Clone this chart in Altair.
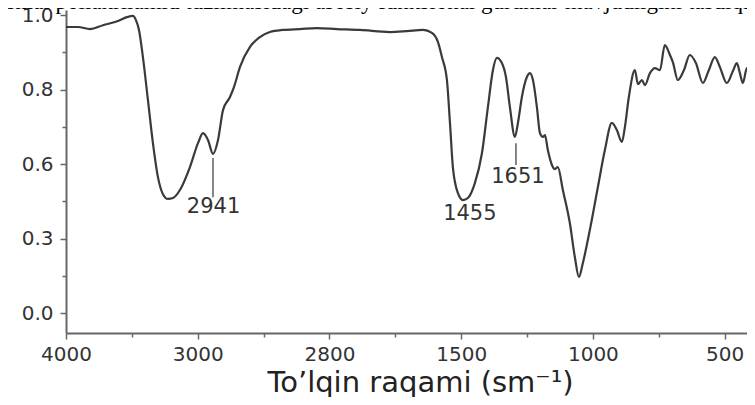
import json
import altair as alt
import pandas as pd

# ---- data ----
x_tick_labels = ["4000", "3000", "2800", "1500", "1000", "500"]
y_tick_labels = ["0.0", "0.3", "0.6", "0.8", "1.0"]

# x in axis-tick units (0 = "4000" tick, 1 = "3000" tick, ...)
# y in axis-tick units (0 = "0.0" tick, 1 = "1.0" tick)
x_pos = [0.000, 0.091, 0.182, 0.281, 0.395, 0.463, 0.509, 0.531, 0.554, 0.584,
         0.622, 0.660, 0.698, 0.736, 0.774, 0.812, 0.865, 0.941, 1.002, 1.040,
         1.078, 1.116, 1.154, 1.192, 1.245, 1.275, 1.321, 1.397, 1.472, 1.548,
         1.647, 1.776, 1.905, 2.057, 2.232, 2.459, 2.588, 2.710, 2.778, 2.824,
         2.854, 2.892, 2.915, 2.937, 2.975, 3.013, 3.051, 3.104, 3.158, 3.203,
         3.241, 3.271, 3.309, 3.340, 3.370, 3.408, 3.431, 3.461, 3.499, 3.522,
         3.545, 3.575, 3.598, 3.621, 3.636, 3.658, 3.689, 3.712, 3.734, 3.772,
         3.825, 3.863, 3.894, 3.924, 3.977, 4.038, 4.091, 4.144, 4.182, 4.220,
         4.243, 4.273, 4.319, 4.342, 4.372, 4.395, 4.433, 4.471, 4.509, 4.546,
         4.585, 4.607, 4.645, 4.691, 4.736, 4.782, 4.835, 4.880, 4.926, 4.964,
         5.017, 5.063, 5.093, 5.116, 5.139, 5.169, 5.207, 5.230]
y_val = [0.960, 0.960, 0.953, 0.966, 0.980, 0.993, 0.997, 0.983, 0.950, 0.859,
         0.715, 0.570, 0.456, 0.399, 0.383, 0.386, 0.413, 0.490, 0.570, 0.604,
         0.581, 0.534, 0.581, 0.681, 0.725, 0.758, 0.826, 0.893, 0.926, 0.943,
         0.950, 0.953, 0.956, 0.953, 0.950, 0.943, 0.946, 0.950, 0.940, 0.909,
         0.859, 0.782, 0.638, 0.490, 0.403, 0.379, 0.386, 0.436, 0.537, 0.691,
         0.815, 0.856, 0.839, 0.792, 0.691, 0.591, 0.638, 0.725, 0.792, 0.805,
         0.782, 0.691, 0.604, 0.591, 0.597, 0.547, 0.497, 0.483, 0.490, 0.413,
         0.302, 0.188, 0.121, 0.168, 0.279, 0.423, 0.547, 0.638, 0.614, 0.574,
         0.624, 0.725, 0.815, 0.768, 0.782, 0.765, 0.805, 0.822, 0.815, 0.899,
         0.866, 0.842, 0.782, 0.815, 0.866, 0.839, 0.772, 0.815, 0.859, 0.826,
         0.772, 0.812, 0.839, 0.805, 0.772, 0.822, 0.782, 0.732]

peak_labels = ["2941", "1455", "1651"]
peak_label_x = [1.120, 3.066, 3.431]
peak_label_y = [0.356, 0.332, 0.456]

marker_x = [1.116, 3.416]
marker_y_top = [0.520, 0.570]
marker_y_bottom = [0.389, 0.497]

heading = ("ısmal poliakrilamid tuzilmasidagi asosiy funksional guruhlar "
           "mavjudligini tasdiqlaydi")
x_title = "To\u2019lqin raqami (sm\u207b\u00b9)"

# ---- frames ----
spec_df = pd.DataFrame({"x": x_pos, "y": y_val})
lab_df = pd.DataFrame({"x": peak_label_x, "y": peak_label_y, "label": peak_labels})
mk_df = pd.DataFrame({"x": marker_x, "y": marker_y_top, "y2": marker_y_bottom})
head_df = pd.DataFrame({"t": [heading]})

FONT = "DejaVu Sans"
AX = "#666666"
TXT = "#333333"

x_scale = alt.Scale(domain=[0, 5.17], nice=False, zero=False)
y_scale = alt.Scale(domain=[-0.067, 1.017], nice=False, zero=False)

x_axis = alt.Axis(
    values=[i * 0.5 for i in range(11)],
    labelExpr=f"datum.value % 1 == 0 ? {json.dumps(x_tick_labels)}[datum.value] : ''",
    title=x_title, titleFont=FONT, titleFontSize=29, titleFontWeight="normal",
    titleColor="#222222", titleX=354, titleY=58, titleBaseline="alphabetic",
    titleAlign="center",
    labelFont=FONT, labelFontSize=20, labelColor=TXT, labelPadding=5,
    labelFlush=False, labelOverlap=False,
    domainColor=AX, domainWidth=2, tickColor=AX, tickWidth=1.5,
    tickSize={"condition": {"test": "datum.value % 1 != 0", "value": 4}, "value": 6},
    grid=False,
)
y_axis = alt.Axis(
    values=[i * 0.125 for i in range(9)],
    labelExpr=f"datum.value % 0.25 == 0 ? {json.dumps(y_tick_labels)}[round(datum.value * 4)] : ''",
    title=None,
    labelFont=FONT, labelFontSize=20, labelColor=TXT, labelPadding=7,
    labelFlush=False, labelOverlap=False,
    domainColor=AX, domainWidth=2, tickColor=AX, tickWidth=1.5,
    tickSize={"condition": {"test": "datum.value % 0.25 != 0", "value": 4}, "value": 6},
    grid=False,
)

X = alt.X("x:Q", scale=x_scale, axis=x_axis)
Y = alt.Y("y:Q", scale=y_scale, axis=y_axis)

line = alt.Chart(spec_df).mark_line(
    color="#3a3a3a", strokeWidth=2.2, interpolate="monotone", clip=True
).encode(x=X, y=Y)

markers = alt.Chart(mk_df).mark_rule(color="#444444", strokeWidth=1.3).encode(
    x=X, y=Y, y2="y2:Q"
)

labels = alt.Chart(lab_df).mark_text(
    font=FONT, fontSize=21, color=TXT, align="center", baseline="middle"
).encode(x=X, y=Y, text="label:N")

head = alt.Chart(head_df).mark_text(
    font="Liberation Serif", fontSize=23, color="black", align="left",
    baseline="alphabetic"
).encode(x=alt.value(-66), y=alt.value(-1), text="t:N")

chart = alt.layer(line, markers, labels, head).properties(
    width=681, height=323,
    autosize=alt.AutoSizeParams(type="none"),
    padding={"left": 58, "top": 2, "right": 0, "bottom": 64},
    background="white",
).configure_view(stroke=None)

chart.save("out.html", embed_options={"renderer": "svg", "actions": False})
